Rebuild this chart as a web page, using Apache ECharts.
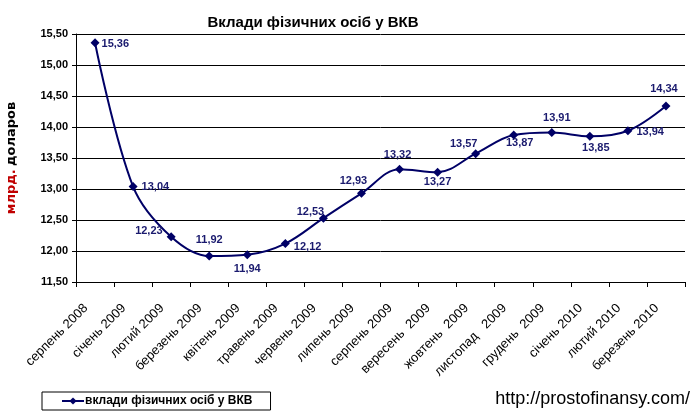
<!DOCTYPE html>
<html><head><meta charset="utf-8">
<script src="https://cdn.jsdelivr.net/npm/echarts@6/dist/echarts.min.js"></script>
<style>html,body{margin:0;padding:0;background:#fff}#c{width:696px;height:417px}</style>
</head><body><div id="c"></div>
<script>
const categories = ['серпень 2008','січень 2009','лютий 2009','березень 2009','квітень 2009','травень 2009','червень 2009','липень 2009','серпень 2009','вересень  2009','жовтень  2009','листопад   2009','грудень  2009','січень 2010','лютий 2010','березень 2010'];
const values = [15.36,13.04,12.23,11.92,11.94,12.12,12.53,12.93,13.32,13.27,13.57,13.87,13.91,13.85,13.94,14.34];
const labelPos = ['right','right','left','top','bottom','right','top','top','top','bottom','top','bottom','top','bottom','right','top'];
const labelOffset = [[-2,1],[0,0],[0,-6],[0,-2],[0,0],[0,3],[-13,8],[-8,2],[-2,0],[0,-4],[-12,4],[6,-6],[5,-1],[6,-2],[0,1],[-2,-3]];

const chart = echarts.init(document.getElementById('c'));
const data = values.map((v,i)=>({value:v,label:{position:labelPos[i],offset:labelOffset[i]}}));
chart.setOption({
  animation:false,
  backgroundColor:'#fff',
  title:{text:'Вклади фізичних осіб у ВКВ',left:308,top:10,textAlign:'center',
    textStyle:{fontFamily:'Arial, Liberation Sans',fontSize:15,fontWeight:'bold',color:'#000'}},
  grid:{left:76,right:11,top:34,bottom:135,containLabel:false,outerBoundsMode:'none'},
  legend:{left:42,top:392,itemWidth:22,itemHeight:9,padding:[3,18,3,19],
    borderColor:'#000',borderWidth:1,itemGap:2,
    textStyle:{fontFamily:'Arial, Liberation Sans',fontSize:12,fontWeight:'bold',color:'#000',padding:[0,0,0,-4]},
    data:['вклади фізичних осіб у ВКВ']},
  xAxis:{type:'category',data:categories,boundaryGap:true,
    axisLine:{lineStyle:{color:'#000',width:1}},
    axisTick:{show:true,length:5,inside:false,lineStyle:{color:'#000'}},
    axisLabel:{rotate:45,interval:0,margin:15,padding:[0,13,0,0],fontFamily:'Arial, Liberation Sans',fontSize:13,color:'#000'}},
  yAxis:{type:'value',min:11.5,max:15.5,interval:0.5,
    name:'{r|млрд.} {b|доларов}',nameLocation:'middle',nameGap:58,nameRotate:90,
    nameTextStyle:{rich:{r:{color:'#c00000',fontSize:13,fontWeight:'bold',fontFamily:'DejaVu Sans'},
                         b:{color:'#000',fontSize:13,fontWeight:'bold',fontFamily:'DejaVu Sans'}}},
    axisLine:{show:true,lineStyle:{color:'#000',width:1}},
    axisTick:{show:true,length:4,lineStyle:{color:'#000'}},
    splitLine:{show:true,lineStyle:{color:'#000',width:1}},
    axisLabel:{margin:8,fontFamily:'Arial, Liberation Sans',fontSize:11,fontWeight:'bold',color:'#000',
      formatter:v=>v.toFixed(2).replace('.',',')}},
  series:[{name:'вклади фізичних осіб у ВКВ',type:'line',data:data,smooth:0.35,
    symbol:'diamond',symbolSize:9,
    lineStyle:{color:'#000066',width:2},itemStyle:{color:'#000066'},
    label:{show:true,distance:4,fontFamily:'Arial, Liberation Sans',fontSize:11,fontWeight:'bold',color:'#1a1a6e',
      formatter:p=>p.value.toFixed(2).replace('.',',')}}],
  graphic:[{type:'text',right:6,top:390,style:{text:'http://prostofinansy.com/',fontFamily:'Arial, Liberation Sans',fontSize:18,fill:'#000'}}]
});
</script></body></html>
